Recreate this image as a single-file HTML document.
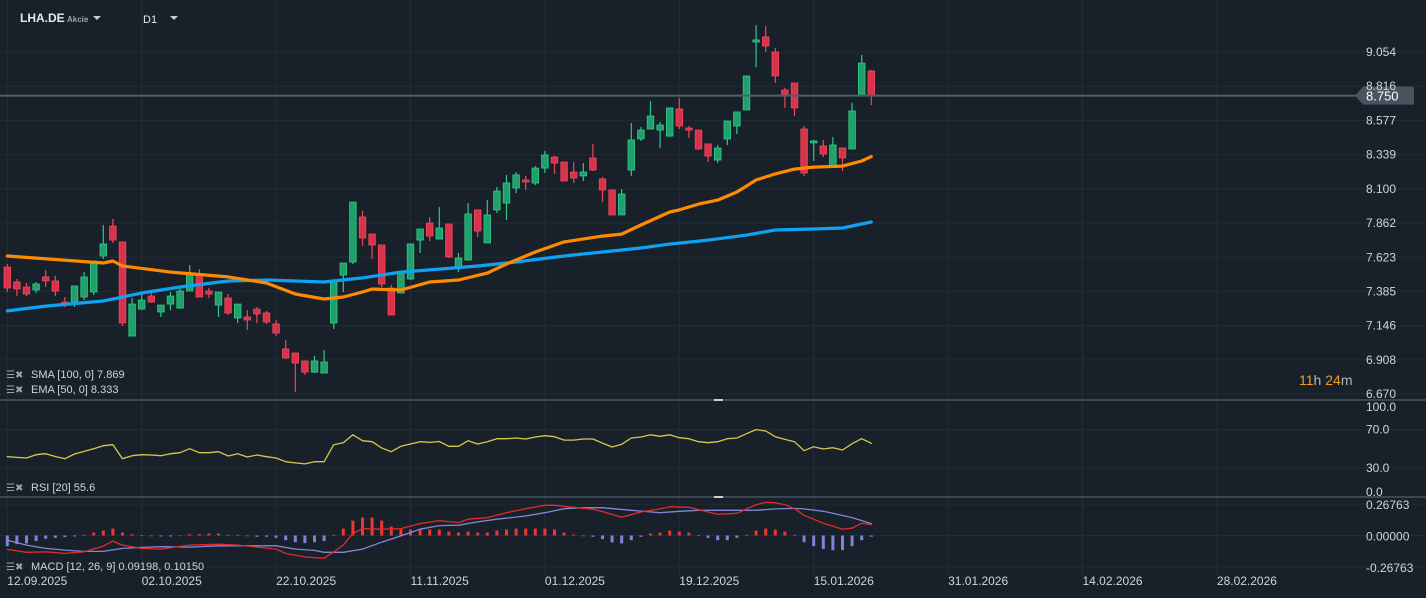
<!DOCTYPE html>
<html><head><meta charset="utf-8">
<style>
html,body{margin:0;padding:0;background:#18212a;overflow:hidden}
svg{display:block;font-family:"Liberation Sans",sans-serif}
</style></head>
<body>
<svg id="c" width="1426" height="598" viewBox="0 0 1426 598">
<rect x="0" y="0" width="1426" height="598" fill="#18212a"/>
<g id="grid"></g>
<g id="main"></g>
<g id="rsi"></g>
<g id="macd"></g>
<g id="axes"></g>
<line x1="0" y1="400" x2="1426" y2="400" stroke="#3b4752" stroke-width="2"/>
<line x1="0" y1="497" x2="1426" y2="497" stroke="#3b4752" stroke-width="2"/>
<rect x="714" y="399" width="9" height="2" fill="#d0d0d0"/>
<rect x="714" y="496" width="9" height="2" fill="#d0d0d0"/>
<g>
<text x="20" y="22" fill="#e6e9ec" font-size="12" font-weight="bold">LHA.DE</text>
<text x="67" y="22" fill="#9aa4ad" font-size="8" font-weight="bold">Akcie</text>
<path d="M93 16 L101 16 L97 20 Z" fill="#c8cdd2"/>
</g>
<g>
<text x="143" y="23" fill="#e6e9ec" font-size="11">D1</text>
<path d="M170 16 L178 16 L174 20 Z" fill="#c8cdd2"/>
</g>
<g>
<text x="6" y="378" fill="#9aa4ad" font-size="10">☰✖</text>
<text x="31" y="378" fill="#d0d4d8" font-size="11">SMA [100, 0] 7.869</text>
</g>
<g>
<text x="6" y="393" fill="#9aa4ad" font-size="10">☰✖</text>
<text x="31" y="393" fill="#d0d4d8" font-size="11">EMA [50, 0] 8.333</text>
</g>
<g>
<text x="6" y="491" fill="#9aa4ad" font-size="10">☰✖</text>
<text x="31" y="491" fill="#d0d4d8" font-size="11">RSI [20]  55.6</text>
</g>
<g>
<text x="6" y="570" fill="#9aa4ad" font-size="10">☰✖</text>
<text x="31" y="570" fill="#d0d4d8" font-size="11">MACD [12, 26, 9] 0.09198,  0.10150</text>
</g>
<text x="1299" y="385" font-size="14" fill="#b0b6bc"><tspan fill="#f0a020">11</tspan>h <tspan fill="#f0a020">24</tspan>m</text>
</svg>
<script>
const opens  =[7.555,7.451,7.416,7.395,7.486,7.458,7.311,7.311,7.346,7.381,7.632,7.841,7.730,7.074,7.262,7.353,7.242,7.297,7.269,7.388,7.499,7.388,7.290,7.339,7.200,7.207,7.262,7.235,7.158,6.984,6.956,6.900,6.823,6.816,7.165,7.499,7.590,7.904,7.785,7.709,7.409,7.374,7.472,7.743,7.862,7.750,7.855,7.555,7.604,7.953,7.723,7.953,8.001,8.106,8.162,8.141,8.245,8.322,8.287,8.217,8.190,8.315,8.169,8.092,7.918,8.231,8.448,8.517,8.510,8.468,8.657,8.524,8.510,8.413,8.301,8.448,8.538,8.650,9.124,9.159,9.054,8.789,8.838,8.517,8.420,8.399,8.252,8.385,8.378,8.761,8.922];
const highs  =[7.576,7.472,7.444,7.451,7.534,7.493,7.346,7.423,7.520,7.597,7.848,7.890,7.730,7.339,7.374,7.388,7.290,7.381,7.416,7.569,7.541,7.409,7.381,7.367,7.297,7.255,7.276,7.248,7.186,7.046,6.956,6.900,6.935,6.977,7.465,7.583,8.008,7.946,7.785,7.709,7.430,7.527,7.716,7.820,7.904,7.973,7.855,7.653,8.001,7.953,8.022,8.113,8.197,8.217,8.190,8.259,8.364,8.329,8.287,8.287,8.280,8.413,8.183,8.092,8.099,8.559,8.531,8.712,8.566,8.664,8.733,8.538,8.510,8.413,8.406,8.573,8.636,8.887,9.242,9.235,9.082,8.803,8.838,8.538,8.441,8.441,8.461,8.385,8.699,9.033,8.929];
const lows   =[7.381,7.353,7.353,7.374,7.416,7.353,7.276,7.276,7.325,7.360,7.611,7.723,7.144,7.074,7.255,7.304,7.207,7.255,7.269,7.388,7.346,7.339,7.207,7.221,7.165,7.116,7.165,7.158,7.074,6.914,6.684,6.802,6.816,6.816,7.123,7.381,7.576,7.702,7.611,7.416,7.221,7.374,7.465,7.653,7.736,7.750,7.618,7.520,7.604,7.764,7.723,7.932,7.883,8.071,8.092,8.127,8.211,8.204,8.155,8.141,8.155,8.224,8.008,7.918,7.918,8.190,8.434,8.517,8.385,8.461,8.517,8.454,8.371,8.287,8.280,8.406,8.482,8.650,8.949,9.054,8.838,8.664,8.608,8.190,8.294,8.322,8.252,8.224,8.378,8.761,8.684];
const closes =[7.409,7.402,7.367,7.437,7.458,7.388,7.290,7.423,7.486,7.597,7.716,7.743,7.165,7.297,7.325,7.311,7.290,7.353,7.388,7.513,7.346,7.367,7.381,7.235,7.297,7.186,7.228,7.172,7.095,6.921,6.886,6.823,6.900,6.893,7.465,7.583,8.008,7.757,7.709,7.437,7.221,7.513,7.716,7.820,7.771,7.827,7.625,7.618,7.925,7.806,7.918,8.085,8.141,8.197,8.148,8.245,8.336,8.280,8.155,8.176,8.217,8.231,8.092,7.918,8.064,8.441,8.510,8.608,8.545,8.664,8.538,8.510,8.378,8.329,8.385,8.573,8.636,8.887,9.138,9.096,8.887,8.754,8.664,8.210,8.434,8.343,8.406,8.315,8.643,8.977,8.750];
const emaIdx =[0,10,11,12,17,23,27,30,33,35,37,38,41,44,47,50,52,55,58,62,64,66,69,70,72,74,76,78,80,82,84,87,89,90];
const emaVals=[7.632,7.583,7.597,7.562,7.520,7.486,7.444,7.367,7.332,7.346,7.381,7.402,7.395,7.451,7.465,7.513,7.576,7.660,7.730,7.771,7.785,7.848,7.939,7.953,7.994,8.022,8.078,8.162,8.204,8.238,8.252,8.259,8.294,8.325];
const smaIdx =[0,4,10,14,18,23,27,33,37,41,45,49,53,58,62,66,69,73,77,80,84,87,90];
const smaVals=[7.249,7.283,7.318,7.374,7.416,7.458,7.465,7.451,7.479,7.520,7.541,7.562,7.590,7.632,7.660,7.688,7.715,7.743,7.778,7.813,7.820,7.827,7.869];
const rsiVals=[41.8,41.0,40.4,43.8,44.9,42.0,39.7,44.6,47.3,50.1,53.2,54.2,39.7,42.8,43.8,43.5,42.8,44.9,45.9,50.1,45.9,45.9,46.9,42.5,44.9,41.5,43.5,41.8,40.4,36.6,35.3,34.3,36.6,36.6,54.2,56.3,64.5,58.3,57.3,50.8,46.9,52.5,54.9,57.3,56.6,57.5,52.5,52.5,58.3,54.9,57.3,60.4,60.4,61.1,60.1,62.2,63.5,62.5,59.0,59.0,60.1,60.1,55.9,51.8,54.6,61.1,62.2,64.5,62.9,64.5,61.5,60.4,57.3,56.3,57.3,60.4,61.1,65.6,69.8,68.4,62.5,59.7,57.3,48.0,52.1,49.7,51.1,48.7,55.2,60.4,55.6];
const histVals=[-0.091,-0.074,-0.068,-0.048,-0.028,-0.020,-0.014,-0.008,0.006,0.025,0.042,0.059,0.025,0.011,0.003,0.000,-0.008,-0.008,0.001,0.011,0.011,0.017,0.017,0.006,0.006,0.000,-0.011,-0.011,-0.020,-0.040,-0.057,-0.065,-0.057,-0.048,0.006,0.059,0.127,0.153,0.153,0.127,0.076,0.059,0.051,0.059,0.051,0.051,0.034,0.025,0.034,0.025,0.025,0.042,0.051,0.059,0.059,0.059,0.059,0.051,0.025,0.008,0.000,-0.011,-0.031,-0.059,-0.068,-0.040,-0.011,0.017,0.025,0.042,0.034,0.025,0.003,-0.020,-0.040,-0.040,-0.020,0.006,0.042,0.059,0.051,0.034,0.006,-0.057,-0.091,-0.116,-0.125,-0.125,-0.091,-0.040,-0.010];
const macdIdx=[0,2,4,6,8,10,11,12,14,16,19,22,24,26,28,29,31,33,35,36,37,39,41,43,45,47,48,50,52,54,56,57,59,61,62,64,66,68,69,71,73,74,76,78,79,80,81,82,83,85,87,88,89,90];
const macdVals=[-0.119,-0.144,-0.139,-0.153,-0.139,-0.091,-0.048,-0.082,-0.110,-0.116,-0.082,-0.074,-0.082,-0.099,-0.116,-0.153,-0.184,-0.195,-0.082,0.017,0.059,0.054,0.059,0.102,0.127,0.110,0.139,0.153,0.195,0.229,0.258,0.258,0.241,0.224,0.204,0.156,0.201,0.227,0.246,0.241,0.201,0.181,0.190,0.263,0.283,0.280,0.263,0.229,0.173,0.105,0.054,0.062,0.105,0.092];
const sigIdx=[0,2,4,6,8,10,12,14,16,19,22,24,26,28,30,32,33,35,37,39,41,43,45,47,49,51,54,56,58,60,62,65,68,70,72,75,78,80,82,83,85,86,88,90];
const sigVals=[-0.040,-0.082,-0.110,-0.125,-0.136,-0.136,-0.110,-0.102,-0.096,-0.099,-0.088,-0.088,-0.088,-0.088,-0.116,-0.127,-0.144,-0.144,-0.116,-0.057,-0.003,0.054,0.085,0.088,0.116,0.139,0.167,0.195,0.229,0.238,0.238,0.215,0.195,0.207,0.215,0.215,0.215,0.227,0.232,0.227,0.207,0.190,0.153,0.102];
const priceTicks=["9.054","8.816","8.577","8.339","8.100","7.862","7.623","7.385","7.146","6.908","6.670"];
const rsiTicks=["100.0","70.0","30.0","0.0"];
const macdTicks=["0.26763","0.00000","-0.26763"];
const dateTicks=["12.09.2025","02.10.2025","22.10.2025","11.11.2025","01.12.2025","19.12.2025","15.01.2026","31.01.2026","14.02.2026","28.02.2026"];
const lastPrice=8.750;

const NS="http://www.w3.org/2000/svg";
const xS=i=>7.3+9.6*i;
const yP=p=>52+(9.054-p)*143.46;
const yR=v=>497-v*0.965;
const yM=v=>535.5-v*117;
function mk(tag,parent,attrs){const e=document.createElementNS(NS,tag);for(const k in attrs)e.setAttribute(k,attrs[k]);parent.appendChild(e);return e;}
const grid=document.getElementById('grid'),main=document.getElementById('main'),rsi=document.getElementById('rsi'),macd=document.getElementById('macd'),axes=document.getElementById('axes');

dateTicks.forEach((d,k)=>{
  const x=xS(k*14);
  const l=mk('line',grid,{x1:x,y1:0,x2:x,y2:575,stroke:'#222c35','stroke-width':1});
  
  
  const t=mk('text',axes,{x:x,y:585,fill:'#d0d4d8','font-size':12});
  t.textContent=d;
  
  
});
priceTicks.forEach(s=>{
  const y=yP(parseFloat(s));
  const l=mk('line',grid,{x1:0,y1:y,x2:1426,y2:y,stroke:'#222c35','stroke-width':1});
  
  
  const t=mk('text',axes,{x:1366,y:y+4,fill:'#d0d4d8','font-size':12});
  t.textContent=s;
  
  
});
rsiTicks.forEach(s=>{
  const y=yR(parseFloat(s));
  if(s==="70.0"||s==="30.0"){const l=mk('line',grid,{x1:0,y1:y,x2:1426,y2:y,stroke:'#222c35','stroke-width':1});
  
  }
  const yy=s==="100.0"?411:(s==="0.0"?496:y+4);
  const t=mk('text',axes,{x:1366,y:yy,fill:'#d0d4d8','font-size':12});
  t.textContent=s;
  
  
});
macdTicks.forEach(s=>{
  const y=yM(parseFloat(s));
  const l=mk('line',grid,{x1:0,y1:y,x2:1426,y2:y,stroke:'#222c35','stroke-width':1});
  
  
  const t=mk('text',axes,{x:1366,y:y+5,fill:'#d0d4d8','font-size':12});
  t.textContent=s;
  
  
});

opens.forEach((o,i)=>{
  const c=closes[i],x=xS(i),up=c>=o;
  const fill=up?'#20a06a':'#d8334a',st=up?'#30c98a':'#f0465c';
  const g=mk('g',main,{});
  
  
  mk('line',g,{x1:x,y1:yP(highs[i]),x2:x,y2:yP(lows[i]),stroke:st,'stroke-width':1.2});
  const top=yP(Math.max(o,c)),h=Math.max(1.5,Math.abs(yP(o)-yP(c)));
  mk('rect',g,{x:x-3.3,y:top,width:6.6,height:h,fill:fill,stroke:st,'stroke-width':0.8});
});
function poly(parent,idx,vals,sc,color,w,name){
  const pts=idx.map((ii,k)=>xS(ii).toFixed(1)+','+sc(vals[k]).toFixed(1)).join(' ');
  const p=mk('polyline',parent,{points:pts,fill:'none',stroke:color,'stroke-width':w,'stroke-linejoin':'round','stroke-linecap':'round'});
  
  
}
poly(main,smaIdx,smaVals,yP,'#0ea2f0',3.2,'sma-100-line');
poly(main,emaIdx,emaVals,yP,'#ff8a00',3.2,'ema-50-line');

const ly=yP(lastPrice);
const pl=mk('line',main,{x1:0,y1:ly,x2:1362,y2:ly,stroke:'#4f5f6b','stroke-width':2});


const tag=mk('path',main,{d:`M1355 ${ly} L1363 ${ly-9} L1414 ${ly-9} L1414 ${ly+9} L1363 ${ly+9} Z`,fill:'#45545f'});


const lt=mk('text',main,{x:1366,y:ly+5,fill:'#ffffff','font-size':13});
lt.textContent=lastPrice.toFixed(3);



poly(rsi,rsiVals.map((v,i)=>i),rsiVals,yR,'#d6c84a',1.3,'rsi-line');

histVals.forEach((v,i)=>{
  const y0=yM(0),y1=yM(v);
  const r=mk('rect',macd,{x:xS(i)-1.5,y:Math.min(y0,y1),width:3,height:Math.max(0.8,Math.abs(y1-y0)),fill:v>=0?'#f03535':'#7b85d8'});
  
  
});
poly(macd,sigIdx,sigVals,yM,'#7f88d6',1.3,'macd-signal-line');
poly(macd,macdIdx,macdVals,yM,'#e22a2a',1.3,'macd-line');
</script>
</body></html>
